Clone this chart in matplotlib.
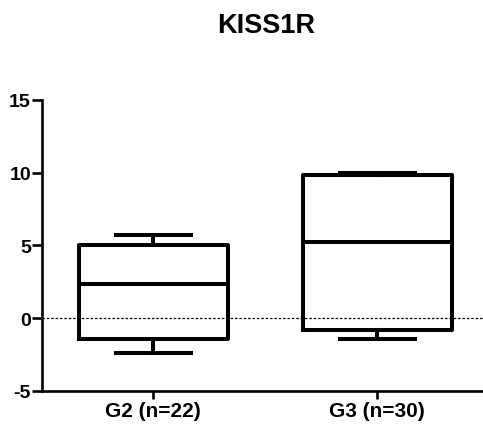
import matplotlib
matplotlib.use("Agg")
import matplotlib.pyplot as plt

plt.rcParams['font.family'] = ['Liberation Sans', 'DejaVu Sans']

groups = ["G2 (n=22)", "G3 (n=30)"]
whislo = [-2.42, -1.44]
q1     = [-1.42, -0.80]
med    = [2.35, 5.23]
q3     = [5.0, 9.83]
whishi = [5.73, 10.0]
yticks = [-5, 0, 5, 10, 15]

stats = []
for i in range(len(groups)):
    stats.append(dict(label=groups[i], whislo=whislo[i], q1=q1[i], med=med[i],
                      q3=q3[i], whishi=whishi[i], fliers=[]))

fig = plt.figure(figsize=(4.83, 4.27), dpi=100)
ax = fig.add_axes([0.087, 0.082, 0.913, 0.682])

lw = 2.9
ax.axhline(0, color="black", lw=0.9, ls=(0, (2, 1.5)), zorder=1)
ax.bxp(stats, positions=[1, 2], widths=0.665, capwidths=0.335, showfliers=False,
       boxprops=dict(color="black", lw=lw),
       medianprops=dict(color="black", lw=lw),
       whiskerprops=dict(color="black", lw=lw),
       capprops=dict(color="black", lw=lw))

ax.set_xlim(0.504, 2.473)
ax.set_ylim(-5, 15)
ax.set_yticks(yticks)
ax.set_yticklabels([str(t) for t in yticks])

ax.spines["top"].set_visible(False)
ax.spines["right"].set_visible(False)
ax.spines["left"].set_linewidth(1.9)
ax.spines["bottom"].set_linewidth(1.9)
ax.tick_params(axis="both", width=1.9, length=7, pad=1)
ax.tick_params(axis="y", labelsize=14)
ax.tick_params(axis="x", labelsize=15, length=6)
for lab in ax.get_xticklabels() + ax.get_yticklabels():
    lab.set_fontweight("bold")

fig.text(0.551, 0.94, "KISS1R", ha="center", va="center", fontsize=19.5, fontweight="bold")

fig.savefig("out.png", dpi=100)
